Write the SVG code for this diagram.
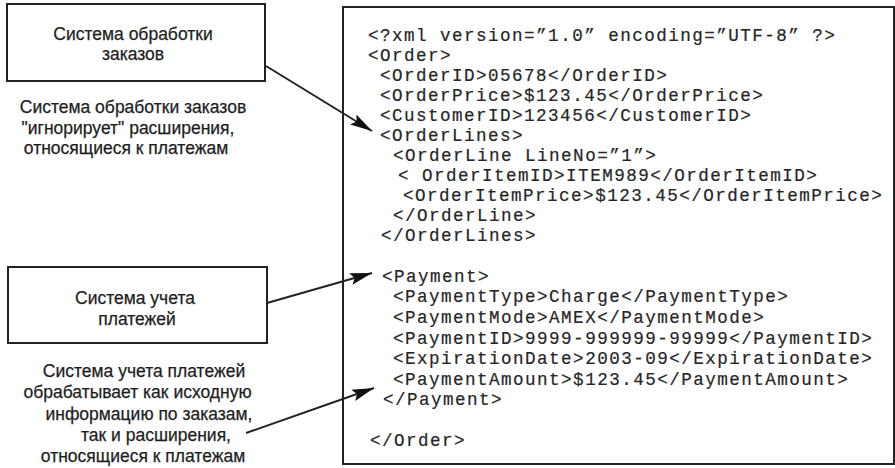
<svg xmlns="http://www.w3.org/2000/svg" width="895" height="468" viewBox="0 0 895 468">
  <style>
    .box { fill: #ffffff; stroke: #222222; stroke-width: 2; }
    .label { font-family: "Liberation Sans", Arial, sans-serif; font-size: 17.5px; fill: #1e1e1e; stroke: #1e1e1e; stroke-width: 0.25; text-anchor: middle; }
    .code { font-family: "Liberation Mono", "Courier New", monospace; font-size: 17.6px; letter-spacing: 1.45px; fill: #262626; stroke: #262626; stroke-width: 0.2; white-space: pre; }
    .conn { fill: none; stroke: #222222; stroke-width: 2; }
  </style>
  <defs>
    <marker id="arrow" markerUnits="userSpaceOnUse" markerWidth="24" markerHeight="14" refX="22" refY="7" orient="auto">
      <path d="M0,1 L22,7 L0,13 L4,7 Z" fill="#111111"/>
    </marker>
  </defs>

  <rect width="895" height="468" fill="#ffffff"/>

  <!-- order processing system -->
  <g id="order-system">
    <rect class="box" x="7" y="4" width="258" height="77"/>
    <text class="label" x="133" y="39.5">Система обработки</text>
    <text class="label" x="133" y="60">заказов</text>
  </g>

  <g id="order-note">
    <text class="label" x="133" y="112.5">Система обработки заказов</text>
    <text class="label" x="128" y="133.5">"игнорирует" расширения,</text>
    <text class="label" x="126" y="154">относящиеся к платежам</text>
  </g>

  <!-- payment accounting system -->
  <g id="payment-system">
    <rect class="box" x="8" y="267" width="259" height="76"/>
    <text class="label" x="135" y="304">Система учета</text>
    <text class="label" x="137" y="324.5">платежей</text>
  </g>

  <g id="payment-note">
    <text class="label" x="144" y="377">Система учета платежей</text>
    <text class="label" x="137.5" y="398">обрабатывает как исходную</text>
    <text class="label" x="149" y="419.5">информацию по заказам,</text>
    <text class="label" x="156" y="440.5">так и расширения,</text>
    <text class="label" x="143" y="462">относящиеся к платежам</text>
  </g>

  <!-- XML order document -->
  <g id="xml-doc">
    <rect class="box" x="343" y="7" width="551" height="457"/>
    <text class="code" x="368" y="41">&lt;?xml version=”1.0” encoding=”UTF-8” ?&gt;</text>
    <text class="code" x="368" y="61">&lt;Order&gt;</text>
    <text class="code" x="380" y="81">&lt;OrderID&gt;05678&lt;/OrderID&gt;</text>
    <text class="code" x="380" y="101">&lt;OrderPrice&gt;$123.45&lt;/OrderPrice&gt;</text>
    <text class="code" x="380" y="121">&lt;CustomerID&gt;123456&lt;/CustomerID&gt;</text>
    <text class="code" x="380" y="141">&lt;OrderLines&gt;</text>
    <text class="code" x="393" y="161">&lt;OrderLine LineNo=”1”&gt;</text>
    <text class="code" x="398" y="181">&lt; OrderItemID&gt;ITEM989&lt;/OrderItemID&gt;</text>
    <text class="code" x="403" y="201">&lt;OrderItemPrice&gt;$123.45&lt;/OrderItemPrice&gt;</text>
    <text class="code" x="393" y="221">&lt;/OrderLine&gt;</text>
    <text class="code" x="381" y="241">&lt;/OrderLines&gt;</text>
    <text class="code" x="382" y="282">&lt;Payment&gt;</text>
    <text class="code" x="393" y="302">&lt;PaymentType&gt;Charge&lt;/PaymentType&gt;</text>
    <text class="code" x="393" y="323">&lt;PaymentMode&gt;AMEX&lt;/PaymentMode&gt;</text>
    <text class="code" x="393" y="344">&lt;PaymentID&gt;9999-999999-99999&lt;/PaymentID&gt;</text>
    <text class="code" x="393" y="364">&lt;ExpirationDate&gt;2003-09&lt;/ExpirationDate&gt;</text>
    <text class="code" x="393" y="385">&lt;PaymentAmount&gt;$123.45&lt;/PaymentAmount&gt;</text>
    <text class="code" x="383" y="405">&lt;/Payment&gt;</text>
    <text class="code" x="370" y="446">&lt;/Order&gt;</text>
  </g>

  <!-- connectors -->
  <g id="connectors">
    <line class="conn" x1="266" y1="66" x2="372" y2="131" marker-end="url(#arrow)"/>
    <line class="conn" x1="267" y1="303" x2="372" y2="273" marker-end="url(#arrow)"/>
    <line class="conn" x1="246" y1="433" x2="374" y2="388" marker-end="url(#arrow)"/>
  </g>
</svg>
